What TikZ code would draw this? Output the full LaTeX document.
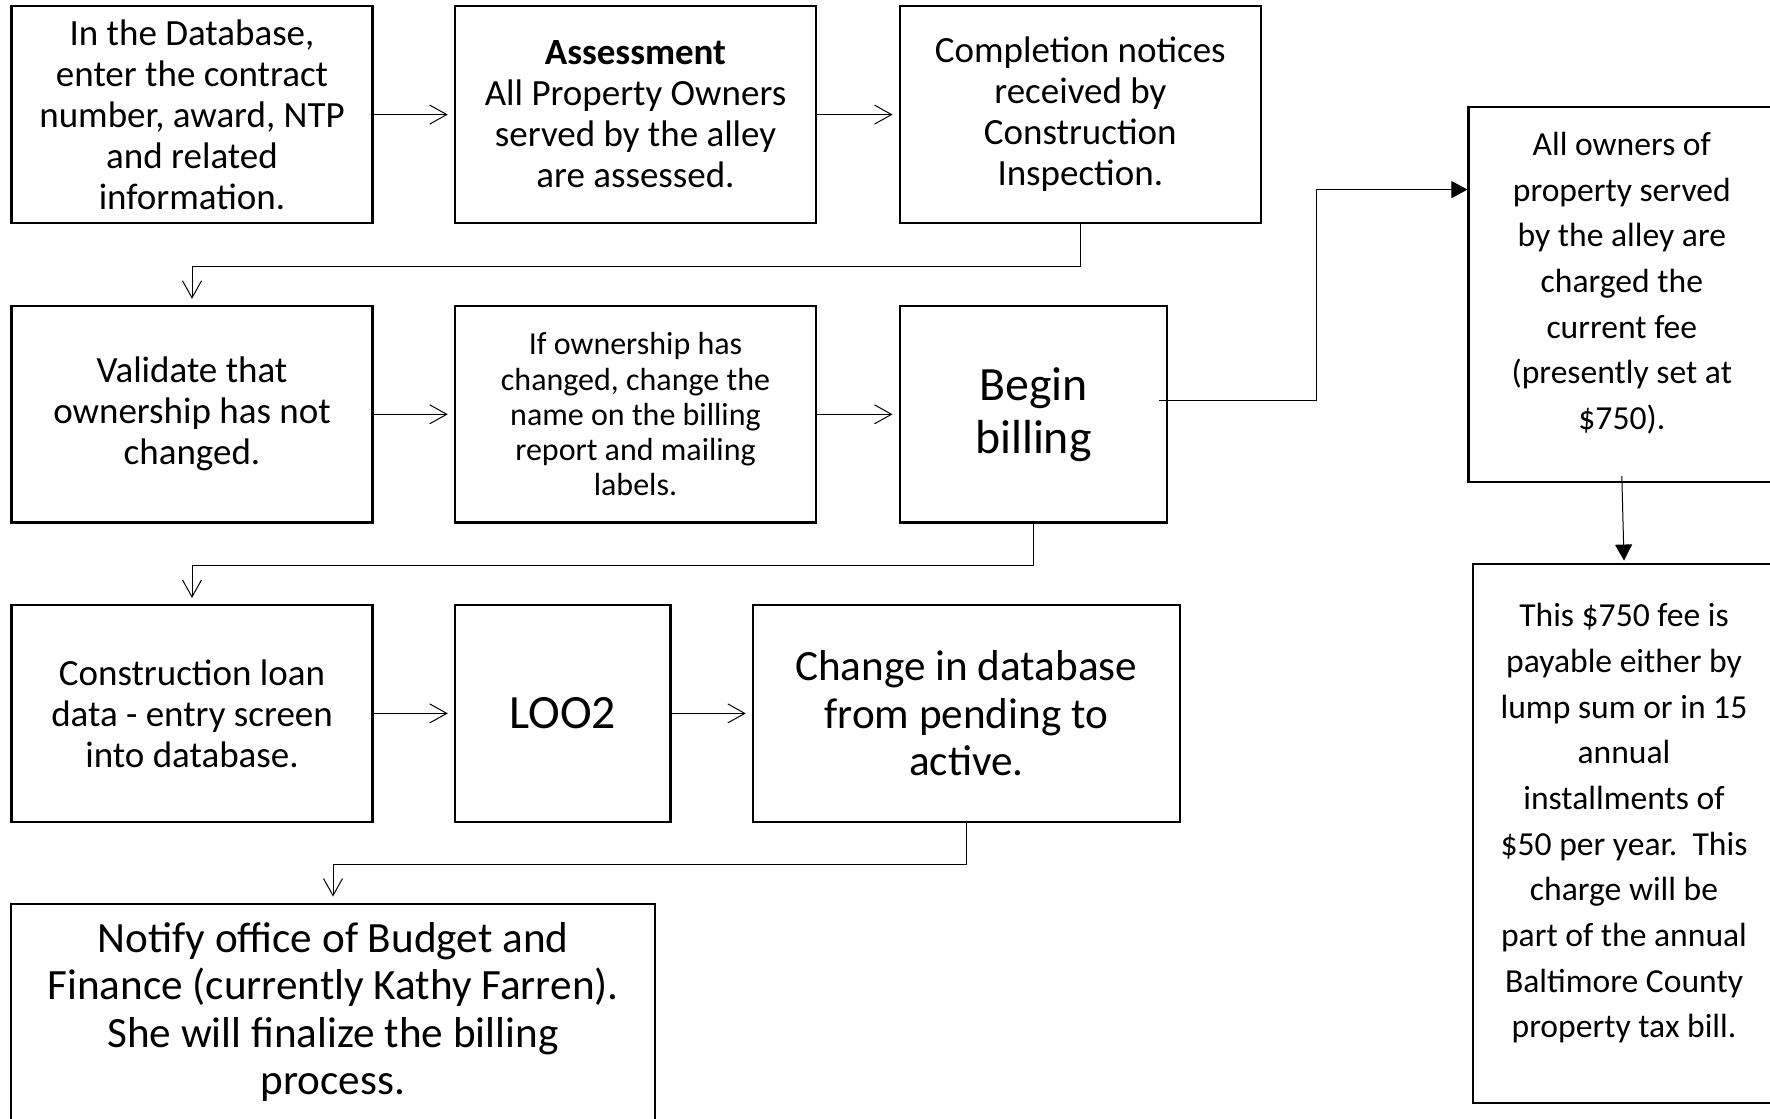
\documentclass[tikz,border=0pt]{standalone}
\usepackage{fontspec}
\setmainfont{Carlito}
\usetikzlibrary{arrows.meta}

\tikzset{
  stepbox/.style={draw, line width=1.15pt, align=center, inner sep=0pt,
    minimum width=180.6pt, minimum height=108.3pt,
    font=\fontsize{18.5}{20.5}\selectfont},
  smalltext/.style={font=\fontsize{16}{17.6}\selectfont},
  bigtext/.style={font=\fontsize{23.9}{26.5}\selectfont},
  largetext/.style={font=\fontsize{21.6}{23.7}\selectfont},
  sidetext/.style={font=\fontsize{16.8}{22.85}\selectfont},
  openarrow/.style={-{Straight Barb[length=8.5pt,width=9.5pt]}, line width=0.5pt, shorten >=3pt},
  fullarrow/.style={-{Triangle[length=8pt,width=8.5pt]}, line width=0.5pt}
}

\begin{document}
\begin{tikzpicture}[x=0.5pt, y=-0.5pt]
  \useasboundingbox (0,0) rectangle (1770,1118);

  % first row
  \node[stepbox] (b1) at (192,114.6) {In the Database,\\enter the contract\\number, award, NTP\\and related\\information.};
  \node[stepbox] (b2) at (635.5,114.6) {\textbf{Assessment}\\All Property Owners\\served by the alley\\are assessed.};
  \node[stepbox] (b3) at (1080.3,114.6) {Completion notices\\received by\\Construction\\Inspection.};

  % second row
  \node[stepbox] (b4) at (192,414.3) {Validate that\\ownership has not\\changed.};
  \node[stepbox, smalltext] (b5) at (635.5,414.3) {If ownership has\\changed, change the\\name on the billing\\report and mailing\\labels.};
  \node[stepbox, bigtext, minimum width=133.75pt] (b6) at (1033.4,414.3) {Begin\\billing};

  % third row
  \node[stepbox] (b7) at (192,713.4) {Construction loan\\data - entry screen\\into database.};
  \node[stepbox, bigtext, minimum width=107.8pt] (b8) at (562.7,713.4) {LOO2};
  \node[stepbox, largetext, minimum width=213.35pt] (b9) at (966.3,713.4) {Change in database\\from pending to\\active.};

  % last step
  \node[stepbox, largetext, minimum width=321.7pt] (b10) at (333,1012) {Notify office of Budget and\\Finance (currently Kathy Farren).\\She will finalize the billing\\process.};

  % right column
  \node[stepbox, sidetext, minimum width=153.2pt, minimum height=187.4pt] (bA) at (1621.8,294.6) {All owners of\\property served\\by the alley are\\charged the\\current fee\\(presently set at\\\$750).\\[-9pt]\mbox{}};
  \node[stepbox, sidetext, minimum width=151pt, minimum height=269.2pt] (bB) at (1624,833.5) {This \$750 fee is\\payable either by\\lump sum or in 15\\annual\\installments of\\\$50 per year.\ \ This\\charge will be\\part of the annual\\Baltimore County\\property tax bill.\\[-10pt]\mbox{}};

  % connectors
  \draw[openarrow] (b1) -- (b2);
  \draw[openarrow] (b2) -- (b3);
  \draw[openarrow] (b3.south) -- ++(0,42.9) -| (b4.north);
  \draw[openarrow] (b4) -- (b5);
  \draw[openarrow] (b5) -- (b6);
  \draw[openarrow] (b6.south) -- ++(0,41.8) -| (b7.north);
  \draw[openarrow] (b7) -- (b8);
  \draw[openarrow] (b8) -- (b9);
  \draw[openarrow] (b9.south) -- ++(0,41.7) -| (b10.north);
  \draw[fullarrow] ([xshift=-4.75pt,yshift=6.8pt]b6.east) -- ++(157.3,0) |- ([yshift=52.5pt]bA.west);
  \draw[fullarrow] ([yshift=3.5pt]bA.south) -- ([yshift=1.3pt]bB.north);
\end{tikzpicture}
\end{document}
